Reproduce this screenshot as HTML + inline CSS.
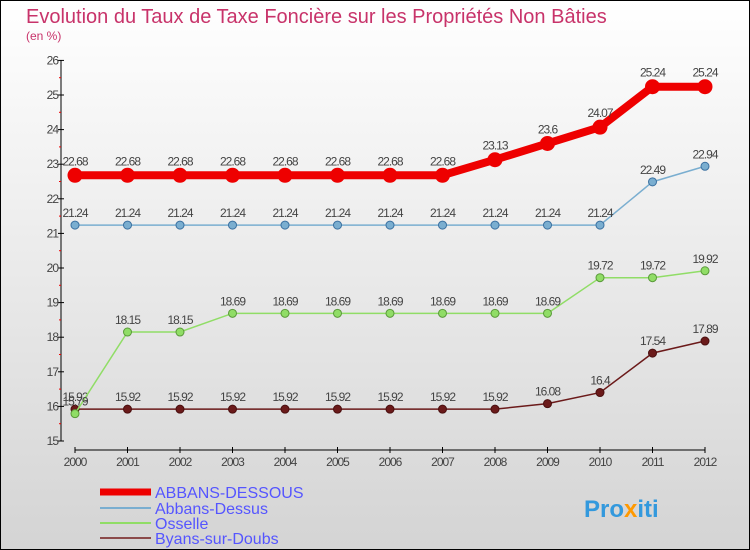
<!DOCTYPE html>
<html><head><meta charset="utf-8"><style>
body{margin:0}
svg{display:block;font-family:"Liberation Sans",sans-serif}
</style></head><body>
<svg width="750" height="550" xmlns="http://www.w3.org/2000/svg">
<defs><linearGradient id="bg" x1="0" y1="0" x2="0" y2="1"><stop offset="0" stop-color="#ffffff"/><stop offset="1" stop-color="#d4d4d4"/></linearGradient></defs>
<rect x="0.5" y="0.5" width="749" height="549" fill="url(#bg)" stroke="#000"/>
<text x="26" y="23" font-size="20" fill="#c8336a">Evolution du Taux de Taxe Foncière sur les Propriétés Non Bâties</text>
<text x="26" y="40" font-size="12" fill="#c8336a">(en %)</text>
<g id="axes"></g><g id="series"></g>
<g>
<line x1="100" y1="492" x2="151" y2="492" stroke="#ee0000" stroke-width="7"/>
<text x="155" y="498" font-size="16" fill="#5555ff">ABBANS-DESSOUS</text>
<line x1="100" y1="508" x2="151" y2="508" stroke="#7aaed0" stroke-width="2"/>
<text x="155" y="514" font-size="16" fill="#5555ff">Abbans-Dessus</text>
<line x1="100" y1="523" x2="151" y2="523" stroke="#90dd66" stroke-width="2"/>
<text x="155" y="529" font-size="16" fill="#5555ff">Osselle</text>
<line x1="100" y1="538" x2="151" y2="538" stroke="#8b4a4a" stroke-width="2"/>
<text x="155" y="544" font-size="16" fill="#5555ff">Byans-sur-Doubs</text>
</g>
<text x="584" y="517" font-size="24" font-weight="bold" fill="#3399dd">Pro<tspan fill="#ff9900">x</tspan>iti</text>
</svg>
<script>
const years=["2000","2001","2002","2003","2004","2005","2006","2007","2008","2009","2010","2011","2012"];
const yTicks=[15,16,17,18,19,20,21,22,23,24,25,26];
const abbansDessous=[22.68,22.68,22.68,22.68,22.68,22.68,22.68,22.68,23.13,23.6,24.07,25.24,25.24];
const abbansDessus=[21.24,21.24,21.24,21.24,21.24,21.24,21.24,21.24,21.24,21.24,21.24,22.49,22.94];
const osselle=[15.79,18.15,18.15,18.69,18.69,18.69,18.69,18.69,18.69,18.69,19.72,19.72,19.92];
const byans=[15.92,15.92,15.92,15.92,15.92,15.92,15.92,15.92,15.92,16.08,16.4,17.54,17.89];
const NS="http://www.w3.org/2000/svg";
const x=i=>75+i*52.5;
const y=v=>441-(v-15)*34.6;
function mk(t,a,p){const e=document.createElementNS(NS,t);for(const k in a)e.setAttribute(k,a[k]);p.appendChild(e);return e;}
const ax=document.getElementById('axes');
let yl=mk('line',{x1:61,y1:y(26),x2:61,y2:y(15),stroke:'#000'},ax);


yTicks.forEach(v=>{
 mk('line',{x1:58,y1:y(v),x2:64,y2:y(v),stroke:'#000'},ax);
 if(v<26)mk('line',{x1:59,y1:y(v+0.5),x2:61,y2:y(v+0.5),stroke:'#e00'},ax);
 const t=mk('text',{x:58,y:y(v)+4,'font-size':12,fill:'#444','text-anchor':'end','letter-spacing':'-1'},ax);t.textContent=v;
 
 
});
let xl=mk('line',{x1:x(0),y1:450,x2:x(12),y2:450,stroke:'#000'},ax);


years.forEach((yr,i)=>{
 mk('line',{x1:x(i),y1:447,x2:x(i),y2:453,stroke:'#000'},ax);
 const t=mk('text',{x:x(i),y:466,'font-size':12,fill:'#444','text-anchor':'middle','letter-spacing':'-1'},ax);t.textContent=yr;
 
 
});
const sg=document.getElementById('series');
function series(vals,color,w,r,name,dark){
 const g=mk('g',{},sg);
 
 
 mk('polyline',{points:vals.map((v,i)=>x(i)+','+y(v)).join(' '),fill:'none',stroke:color,'stroke-width':w},g);
 vals.forEach((v,i)=>{
  const c=mk('circle',{cx:x(i),cy:y(v),r:r,fill:color,stroke:dark,'stroke-width':1},g);
  
  
  const t=mk('text',{x:x(i),y:y(v)-8-(r>5?2:0),'font-size':12,fill:'#444','text-anchor':'middle','letter-spacing':'-1'},g);t.textContent=v;
  
  
 });
}
series(byans,'#6b1a1a',1.5,4,'byans-sur-doubs','#4a0f0f');
series(osselle,'#90dd66',1.5,4,'osselle','#5a9a3a');
series(abbansDessus,'#7aaed0',1.5,4,'abbans-dessus','#3a70a0');
series(abbansDessous,'#ee0000',8,7,'abbans-dessous','#ee0000');
</script>
</body></html>
